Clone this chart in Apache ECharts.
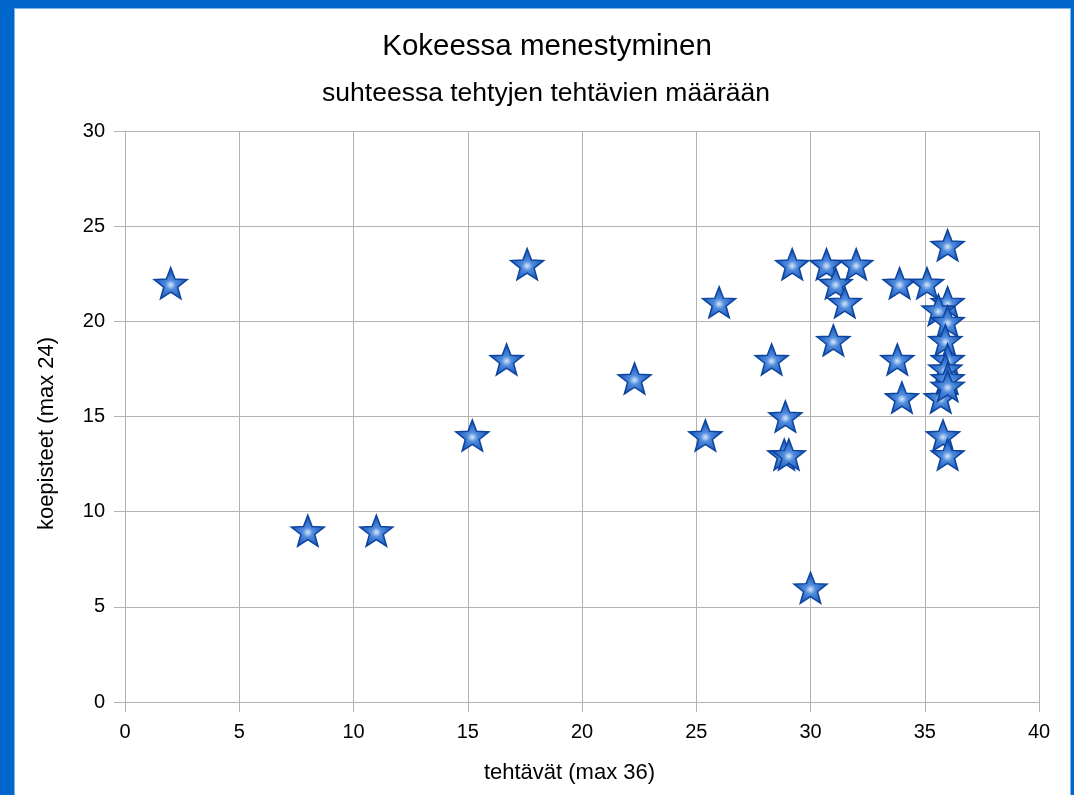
<!DOCTYPE html>
<html>
<head>
<meta charset="utf-8">
<title>Kokeessa menestyminen</title>
<script src="https://cdn.jsdelivr.net/npm/echarts@6/dist/echarts.min.js"></script>
<style>
  html, body { margin: 0; padding: 0; background: #ffffff; }
  #chart { width: 1074px; height: 795px; }
</style>
</head>
<body>
<div id="chart"></div>
<script>
// Tehdyt tehtävät (max 36) ja koepisteet (max 24) oppilaittain
const taskCounts = [
  2, 8, 11, 15.2, 16.7, 17.6, 22.3, 25.4, 26, 28.3,
  28.9, 28.85, 29.05, 29.2, 30, 30.7, 31.1, 31.5, 32, 31,
  33.9, 35.1, 33.8, 34, 35.7, 35.8, 36, 36, 36, 35.6,
  36, 35.9, 36, 35.9, 36, 36
];
const examPoints = [
  22, 9, 9, 14, 18, 23, 17, 14, 21, 18,
  15, 13, 13, 23, 6, 23, 22, 21, 23, 19,
  22, 22, 18, 16, 16, 14, 13, 24, 21, 20.6,
  20, 19, 18, 17.5, 17, 16.6
];
const xTicks = [0, 5, 10, 15, 20, 25, 30, 35, 40];
const yTicks = [0, 5, 10, 15, 20, 25, 30];

const titleText = 'Kokeessa menestyminen';
const subtitleText = 'suhteessa tehtyjen tehtävien määrään';
const xName = 'tehtävät (max 36)';
const yName = 'koepisteet (max 24)';

// five-pointed star outline
const starPath = 'path://M50,0 L62.34,33.01 L97.55,34.55 L69.97,56.49 L79.39,90.45 L50,71 L20.61,90.45 L30.03,56.49 L2.45,34.55 L37.66,33.01 Z';

const points = taskCounts.map((x, i) => [x, examPoints[i]]);

const chart = echarts.init(document.getElementById('chart'), null, { renderer: 'canvas' });

const gridColor = '#b3b3b3';
const font = 'Liberation Sans, Arial, sans-serif';

chart.setOption({
  backgroundColor: '#ffffff',
  animation: false,
  title: [
    {
      text: titleText,
      left: 542, top: 27, textAlign: 'center',
      textStyle: { fontFamily: font, fontSize: 29.5, fontWeight: 'normal', color: '#000' }
    },
    {
      text: subtitleText,
      left: 541, top: 75, textAlign: 'center',
      textStyle: { fontFamily: font, fontSize: 26.5, fontWeight: 'normal', color: '#000' }
    }
  ],
  grid: { left: 125, right: 35, top: 131, bottom: 93, containLabel: false },
  xAxis: {
    type: 'value', min: 0, max: 40, interval: 5,
    name: xName, nameLocation: 'middle', nameGap: 60,
    nameTextStyle: { fontFamily: font, fontSize: 22, color: '#000', padding: [0, 25, 0, 0] },
    axisLine: { show: true, onZero: false, lineStyle: { color: gridColor, width: 1 } },
    axisTick: { show: true, inside: false, length: 10, lineStyle: { color: gridColor } },
    axisLabel: { fontFamily: font, fontSize: 20, color: '#000', margin: 20,
      formatter: v => (xTicks.includes(v) ? String(v) : '') },
    splitLine: { show: true, lineStyle: { color: gridColor, width: 1 } }
  },
  yAxis: {
    type: 'value', min: 0, max: 30, interval: 5,
    name: yName, nameLocation: 'middle', nameGap: 67, nameRotate: 90,
    nameTextStyle: { fontFamily: font, fontSize: 22, color: '#000', padding: [0, 34, 0, 0] },
    axisLine: { show: true, onZero: false, lineStyle: { color: gridColor, width: 1 } },
    axisTick: { show: true, inside: false, length: 11, lineStyle: { color: gridColor } },
    axisLabel: { fontFamily: font, fontSize: 20, color: '#000', margin: 20,
      formatter: v => (yTicks.includes(v) ? String(v) : '') },
    splitLine: { show: true, lineStyle: { color: gridColor, width: 1 } }
  },
  series: [
    {
      type: 'scatter',
      data: points,
      symbol: starPath,
      symbolSize: [33, 31],
      itemStyle: {
        color: {
          type: 'radial', x: 0.5, y: 0.55, r: 0.5,
          colorStops: [
            { offset: 0, color: '#d8e7fb' },
            { offset: 0.3, color: '#4f8bdc' },
            { offset: 1, color: '#1653bb' }
          ]
        },
        borderColor: '#0d449e',
        borderWidth: 1.5,
        opacity: 1
      },
      z: 5
    }
  ],
  graphic: [
    // window frame
    { type: 'rect', shape: { x: 0, y: 0, width: 14, height: 795 }, style: { fill: '#0066cc' }, z: 100 },
    { type: 'rect', shape: { x: 0, y: 0, width: 1074, height: 8 }, style: { fill: '#0066cc' }, z: 100 },
    { type: 'rect', shape: { x: 1071, y: 0, width: 3, height: 795 }, style: { fill: '#0066cc' }, z: 100 },
    { type: 'rect', shape: { x: 14, y: 8, width: 1, height: 787 }, style: { fill: '#7fb2ec' }, z: 100 },
    { type: 'rect', shape: { x: 14, y: 8, width: 1057, height: 1 }, style: { fill: '#7fb2ec' }, z: 100 },
    { type: 'rect', shape: { x: 1070, y: 8, width: 1, height: 787 }, style: { fill: '#7fb2ec' }, z: 100 }
  ]
});
</script>
</body>
</html>
